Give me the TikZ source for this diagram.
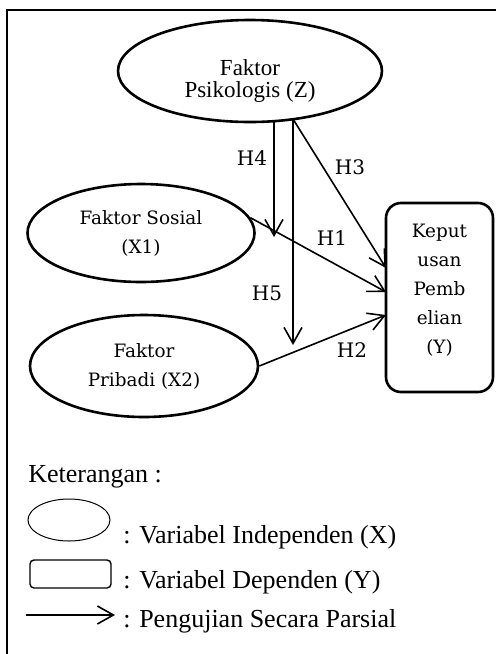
\documentclass[tikz,border=0pt]{standalone}
\usepackage{fontspec}
\setmainfont{Liberation Serif}
\newfontfamily\cambria{DejaVu Serif}
\usetikzlibrary{arrows.meta, calc, positioning, shapes}
\tikzset{
    varX/.style args={#1 #2}{
        draw, ellipse, line width=1.3pt, inner sep=0pt, align=center,
        minimum width=#1, minimum height=#2,
        font=\cambria\fontsize{9.2}{14.5}\selectfont
    },
    varY/.style args={#1 #2}{
        draw, rectangle, rounded corners=7.5pt, line width=1.3pt, inner sep=0pt,
        minimum width=#1, minimum height=#2
    },
    bareH/.style={
        line width=0.8pt, -{Straight Barb[length=8pt, width=9pt, line width=0.8pt]}
    },
    hlabel/.style={font=\cambria\fontsize{10}{11}\selectfont, inner sep=0pt},
    legend/.style={anchor=base west, inner sep=0pt, font=\fontsize{13}{15}\selectfont}
}

\begin{document}
\begin{tikzpicture}[x=0.5pt, y=-0.5pt]
    \useasboundingbox (0,0) rectangle (495,654);
    % frame
    \draw[line width=1pt] (7,660) -- (7,10) -- (500,10);
    % variables
    \node[varX={132pt 51pt}] (z) at (250,71) {};
    \node[align=center, inner sep=0pt, font=\fontsize{11.5}{11}\selectfont] (ztxt)
        at ($(z)+(0,10)$) {Faktor\\Psikologis (Z)};
    \node[varX={113.5pt 49pt}] (x1) at (141,233) {Faktor Sosial\\(X1)};
    \node[varX={114pt 51pt}] (x2) at (144,366) {Faktor\\Pribadi (X2)};
    \node[varY={53.5pt 94.5pt}] (y) at (439.5,297.5) {};
    \node[align=center, inner sep=0pt, font=\cambria\fontsize{9.2}{14.5}\selectfont] (ytxt)
        at ($(y)+(0,-7.5)$) {Keput\\usan\\Pemb\\elian\\(Y)};
    % end points
    \coordinate (z4) at (274,121);
    \coordinate (z5) at (293,119);
    \coordinate (h4) at (274,237);
    \coordinate (h5) at (293,345);
    \coordinate (y3) at (386,268);
    \coordinate (y1) at (386,292);
    \coordinate (y2) at (386,315);
    \draw[bareH] (z4) -- (h4);
    \draw[bareH] (z5) -- (h5);
    \draw[bareH] (z5) -- (y3);
    \draw[bareH] (x1.8) -- (y1);
    \draw[bareH] (x2.east) -- (y2);
    \node[hlabel] (l4) at (252,158) {H4};
    \node[hlabel] (l3) at (350,167) {H3};
    \node[hlabel] (l1) at (332,238) {H1};
    \node[hlabel] (l5) at (267,293) {H5};
    \node[hlabel] (l2) at (352,350) {H2};
    % keterangan
    \node[legend] (ket) at (28,482) {Keterangan :};
    \node[draw, ellipse, line width=0.5pt, minimum width=41pt, minimum height=21pt, inner sep=0pt] (lx) at (69,520) {};
    \node[legend] (tx) at (123,543) {: Variabel Independen (X)};
    \node[draw, rectangle, rounded corners=2pt, line width=0.7pt, minimum width=40.5pt, minimum height=14pt, inner sep=0pt] (ly) at (70.5,574) {};
    \node[legend] (ty) at (123,588) {: Variabel Dependen (Y)};
    \coordinate (la) at (26,615);
    \coordinate (lb) at (115,615);
    \draw[bareH] (la) -- (lb);
    \node[legend] (th) at (123,627) {: Pengujian Secara Parsial};
\end{tikzpicture}
\end{document}
